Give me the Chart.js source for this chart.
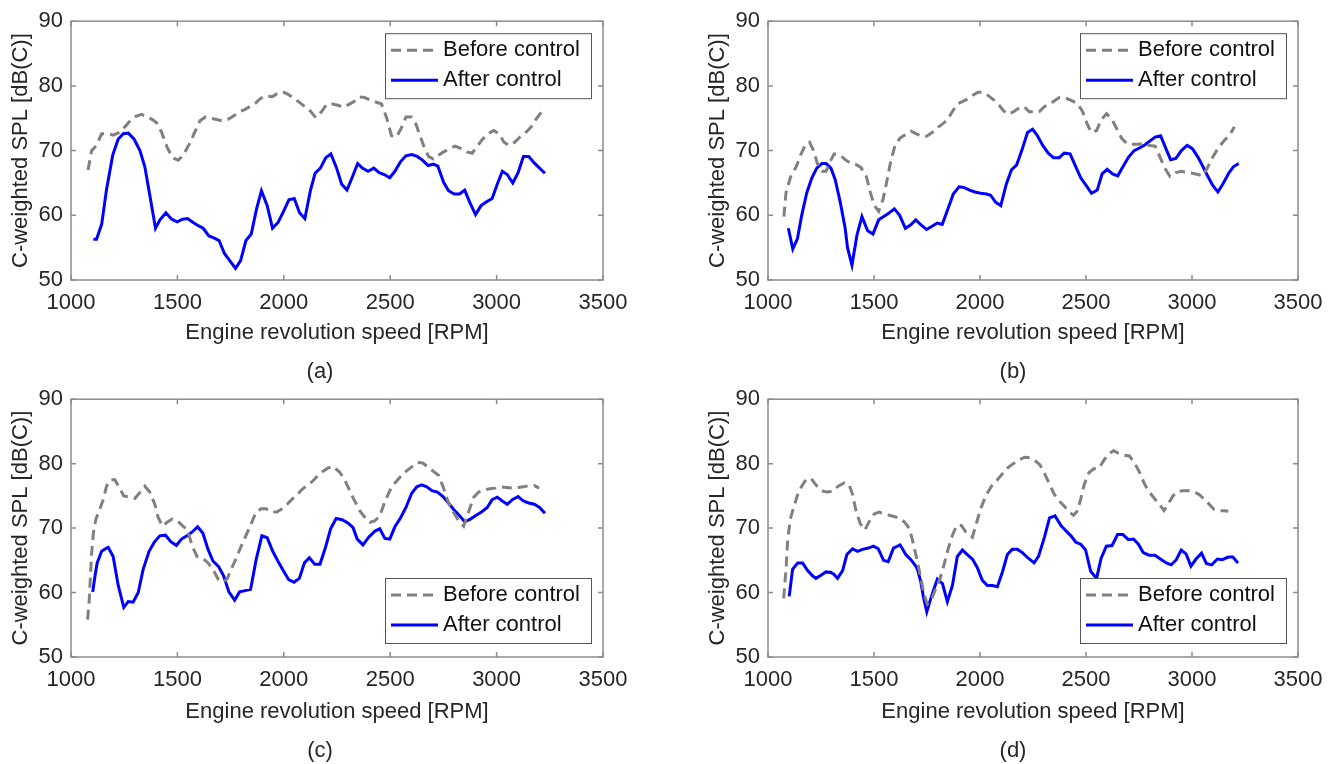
<!DOCTYPE html>
<html>
<head>
<meta charset="utf-8">
<script src="https://cdn.jsdelivr.net/npm/chart.js"></script>
<style>
  body { margin: 0; background: #fff; width: 1341px; height: 764px; position: relative; overflow: hidden;
         font-family: "Liberation Sans", Arial, sans-serif; }
  canvas { position: absolute; }
  .cap { position: absolute; font-size: 22px; color: #262626; transform: translate(-50%, -50%); }
</style>
</head>
<body>
<canvas id="ca" style="left:0;top:0" width="670" height="378"></canvas>
<canvas id="cb" style="left:697px;top:0" width="644" height="378"></canvas>
<canvas id="cc" style="left:0;top:378px" width="670" height="386"></canvas>
<canvas id="cd" style="left:697px;top:378px" width="644" height="386"></canvas>
<div class="cap" style="left:320px;top:371px">(a)</div>
<div class="cap" style="left:1013px;top:371px">(b)</div>
<div class="cap" style="left:320px;top:750px">(c)</div>
<div class="cap" style="left:1013px;top:750px">(d)</div>
<script>
// axis setup
const xTicks = [1000, 1500, 2000, 2500, 3000, 3500];
const yTicks = [50, 60, 70, 80, 90];
const xLabel = 'Engine revolution speed [RPM]';
const yLabel = 'C-weighted SPL [dB(C)]';
const seriesNames = ['Before control', 'After control'];

// (a) [rpm, dB]
const beforeA = [[1080,67],[1097,70],[1120,70.8],[1144,72.6],[1172,72.6],[1199,72.4],[1227,72.8],[1254,73.7],[1280,74.7],[1305,75.3],[1332,75.6],[1358,75.2],[1383,74.8],[1402,74.3],[1426,72.8],[1452,70.5],[1477,68.9],[1504,68.5],[1527,69.3],[1556,71],[1581,72.8],[1606,74.6],[1632,75.2],[1657,75],[1684,74.8],[1711,74.6],[1736,74.8],[1762,75.3],[1789,76],[1814,76.3],[1840,76.8],[1866,77.3],[1892,78.1],[1919,78.5],[1944,78.3],[1969,78.8],[1994,79.1],[2020,78.7],[2047,78.1],[2072,77.5],[2099,76.8],[2125,76.1],[2150,75.1],[2177,76],[2200,77.1],[2229,77.2],[2254,77],[2279,76.7],[2304,77.1],[2330,77.6],[2353,78.3],[2380,78.2],[2407,77.8],[2434,77.5],[2459,77.2],[2483,75.1],[2506,72.3],[2530,72.1],[2554,73.6],[2574,75.2],[2599,75.2],[2621,74.1],[2640,72.3],[2659,70.6],[2680,69.1],[2703,68.7],[2727,69.3],[2751,69.8],[2779,70.3],[2806,70.7],[2833,70.3],[2861,69.8],[2885,69.6],[2908,70.6],[2932,71.7],[2959,72.6],[2987,73.1],[3011,72.6],[3035,71.3],[3058,70.8],[3085,71.3],[3110,72.1],[3137,72.8],[3161,73.6],[3184,74.8],[3200,75.5],[3222,76.3]];
const afterA = [[1105,56.3],[1120,56.3],[1144,58.6],[1167,64],[1196,69.3],[1222,71.8],[1246,72.6],[1269,72.7],[1296,71.8],[1324,70],[1347,67.5],[1371,63],[1397,58],[1418,59.3],[1446,60.4],[1473,59.4],[1499,59],[1524,59.4],[1548,59.5],[1574,58.9],[1598,58.4],[1621,58],[1648,56.8],[1671,56.5],[1696,56.1],[1721,54.1],[1746,53],[1773,51.8],[1797,53],[1822,56.1],[1847,57.1],[1872,61],[1895,63.8],[1922,61.5],[1947,58],[1973,58.9],[1997,60.5],[2024,62.4],[2049,62.6],[2074,60.4],[2099,59.5],[2125,63.8],[2147,66.5],[2172,67.3],[2197,68.9],[2221,69.5],[2247,67.4],[2272,64.8],[2297,63.9],[2323,66],[2347,68],[2369,67.3],[2396,66.8],[2423,67.3],[2448,66.6],[2472,66.3],[2498,65.8],[2522,66.8],[2549,68.3],[2574,69.2],[2601,69.4],[2627,69.1],[2653,68.5],[2678,67.7],[2703,67.9],[2724,67.6],[2751,65.1],[2774,63.8],[2801,63.3],[2826,63.3],[2850,63.9],[2874,62],[2901,60.1],[2927,61.5],[2953,62.1],[2979,62.6],[3003,64.8],[3027,66.8],[3050,66.3],[3076,65],[3101,66.6],[3126,69.1],[3151,69.1],[3177,68.1],[3202,67.3],[3227,66.5]];

// (b)
const beforeB = [[1075,59.8],[1085,63.5],[1107,66],[1133,67.5],[1155,69.4],[1175,70.8],[1196,71.3],[1215,70],[1233,68],[1254,66.8],[1274,66.8],[1293,68.3],[1312,69.5],[1341,69.3],[1364,68.6],[1388,68.1],[1412,67.9],[1438,67.4],[1464,66],[1483,63.5],[1502,61.5],[1522,60.6],[1543,62.5],[1562,65.5],[1580,68.5],[1601,71],[1625,72],[1651,72.5],[1675,73],[1700,72.6],[1722,72.2],[1748,72.2],[1774,72.8],[1798,73.5],[1822,74.1],[1845,74.7],[1869,76],[1893,77.2],[1919,77.6],[1943,78],[1968,78.6],[1990,79],[2015,79],[2039,78.5],[2066,77.8],[2090,77],[2113,76.1],[2132,75.6],[2158,76],[2180,76.5],[2208,76.8],[2232,76],[2255,76],[2279,76],[2303,76.8],[2343,77.5],[2374,78.2],[2397,78.2],[2428,77.8],[2459,77.3],[2483,76.1],[2506,74.1],[2525,72.8],[2550,73.1],[2572,74.8],[2597,75.7],[2623,74.8],[2643,73.5],[2670,71.8],[2696,71],[2721,71],[2748,71],[2771,71.1],[2799,70.8],[2826,70.7],[2849,69],[2872,67.3],[2896,66],[2924,66.6],[2950,66.8],[2974,66.6],[3002,66.5],[3028,66.3],[3052,66.1],[3075,67.5],[3098,69],[3126,70.5],[3153,71.6],[3176,72.3],[3200,73.7]];
const afterB = [[1096,58],[1117,54.8],[1139,56.4],[1159,60],[1183,63.5],[1207,65.8],[1230,67.3],[1254,68],[1274,68],[1297,67.3],[1317,65.5],[1341,62],[1364,58],[1375,55],[1396,52.3],[1420,57],[1443,59.8],[1470,57.6],[1495,57.1],[1522,59.3],[1546,59.8],[1569,60.3],[1596,61],[1621,60],[1648,58],[1672,58.5],[1697,59.3],[1722,58.5],[1748,57.8],[1774,58.3],[1798,58.8],[1822,58.6],[1849,61],[1874,63.3],[1901,64.4],[1924,64.3],[1951,63.9],[1976,63.6],[2003,63.4],[2030,63.3],[2050,63.1],[2074,62],[2098,61.5],[2124,64.8],[2148,67],[2173,67.8],[2197,70],[2224,72.8],[2248,73.3],[2269,72.4],[2296,70.8],[2322,69.6],[2347,68.9],[2374,68.9],[2397,69.6],[2425,69.5],[2452,67.5],[2475,65.8],[2503,64.5],[2526,63.4],[2553,63.9],[2576,66.4],[2600,67.1],[2625,66.4],[2650,66.1],[2674,67.5],[2701,69],[2727,70],[2752,70.4],[2779,70.9],[2802,71.5],[2826,72.1],[2852,72.3],[2877,70.3],[2899,68.6],[2924,68.8],[2950,70],[2977,70.8],[3002,70.3],[3028,69],[3052,67.5],[3075,66],[3098,64.6],[3122,63.6],[3145,64.8],[3173,66.5],[3195,67.5],[3220,68]];

// (c)
const beforeC = [[1078,55.8],[1086,59],[1097,66.1],[1105,69.2],[1117,71.4],[1136,73],[1152,74.5],[1167,76.5],[1186,77.5],[1206,77.5],[1227,76.3],[1248,75],[1277,74.8],[1300,74.6],[1323,75.5],[1347,76.5],[1370,75.6],[1394,73.7],[1409,71.7],[1430,70.3],[1452,70.9],[1475,71.4],[1498,71.2],[1523,70.4],[1547,69.7],[1570,67.2],[1592,65.6],[1617,65.4],[1644,64.6],[1667,63.6],[1691,62.1],[1714,61.6],[1733,62.1],[1753,63.6],[1777,65.4],[1800,67.2],[1823,68.9],[1847,70.7],[1870,72.5],[1894,73],[1917,73],[1941,72.5],[1967,72.5],[1992,73],[2016,73.7],[2039,74.5],[2063,75.2],[2086,76],[2109,76.6],[2133,77.2],[2156,78],[2180,78.7],[2206,79.3],[2230,79.6],[2262,78.7],[2286,77.5],[2310,75.8],[2333,74.2],[2357,72.7],[2380,71.7],[2404,70.9],[2427,71.1],[2451,71.9],[2475,74.1],[2498,75.8],[2522,77],[2549,78],[2574,78.8],[2601,79.5],[2628,80.2],[2653,80.1],[2677,79.5],[2703,78.8],[2727,78.2],[2751,76.2],[2774,73.9],[2798,72.4],[2822,71.1],[2845,70.3],[2868,72.5],[2893,74.8],[2916,75.6],[2940,75.9],[2968,76.1],[2995,76.2],[3019,76.4],[3047,76.3],[3074,76.2],[3101,76.3],[3126,76.4],[3153,76.6],[3177,76.6],[3200,76.2]];
const afterC = [[1102,60.1],[1113,62.6],[1123,64.6],[1144,66.4],[1167,66.9],[1175,67],[1198,65.6],[1222,61.1],[1248,57.7],[1269,58.6],[1292,58.5],[1316,60],[1339,63.6],[1367,66.4],[1391,67.8],[1417,68.8],[1444,68.9],[1469,67.9],[1495,67.3],[1519,68.3],[1545,68.8],[1570,69.4],[1595,70.2],[1620,69.2],[1644,66.7],[1667,64.9],[1694,64],[1717,62.6],[1742,60.1],[1769,58.8],[1792,60.1],[1819,60.3],[1844,60.5],[1870,65.1],[1897,68.8],[1922,68.5],[1948,66.4],[1972,64.9],[1998,63.4],[2023,62],[2048,61.6],[2073,62.2],[2097,64.6],[2120,65.4],[2145,64.4],[2170,64.4],[2195,66.9],[2220,69.9],[2246,71.5],[2274,71.3],[2301,70.8],[2325,70.1],[2345,68.3],[2372,67.4],[2399,68.6],[2427,69.5],[2451,69.9],[2475,68.4],[2498,68.3],[2522,70.2],[2549,71.6],[2574,73.2],[2601,75.4],[2625,76.4],[2648,76.7],[2672,76.4],[2696,75.8],[2722,75.6],[2748,74.9],[2774,73.9],[2798,72.9],[2826,71.9],[2850,71],[2877,71.4],[2904,72],[2929,72.5],[2956,73.2],[2979,74.4],[3003,74.8],[3027,74.2],[3050,73.7],[3074,74.4],[3101,74.9],[3126,74.2],[3151,73.9],[3177,73.7],[3202,73.2],[3227,72.3]];

// (d)
const beforeD = [[1074,59.1],[1085,63.6],[1093,68.2],[1105,71.4],[1121,73.2],[1140,75.2],[1159,76.5],[1179,77.5],[1203,77.7],[1226,76.7],[1250,75.8],[1278,75.6],[1305,75.7],[1331,76.5],[1360,77],[1383,76.7],[1399,75.2],[1415,72.7],[1435,70.7],[1457,69.7],[1477,71],[1501,72.2],[1524,72.5],[1548,72.2],[1571,72],[1595,71.8],[1619,71.5],[1642,71],[1666,70],[1681,68.2],[1702,65.2],[1721,62.2],[1736,59.7],[1752,58.2],[1771,58.9],[1791,60.6],[1812,62.2],[1831,64.4],[1849,66.7],[1870,68.9],[1890,70.4],[1912,70.4],[1933,69.4],[1964,68.6],[1980,70.4],[2003,73],[2027,75],[2054,76.5],[2082,77.5],[2105,78.4],[2129,79.3],[2157,80],[2184,80.6],[2211,81],[2236,80.9],[2262,80.4],[2283,79.8],[2304,78.5],[2328,76.8],[2351,75.2],[2374,74.2],[2398,73.4],[2421,72.5],[2441,72],[2460,72.7],[2475,74.5],[2491,76.7],[2514,78.6],[2537,79.2],[2561,79.3],[2584,80.5],[2607,81.5],[2630,82],[2654,81.6],[2680,81.3],[2705,81.2],[2731,80],[2755,78.5],[2778,76.7],[2801,75.5],[2825,74.5],[2848,73.6],[2868,72.7],[2887,73.7],[2910,75],[2933,75.7],[2957,75.8],[2985,75.8],[3011,75.6],[3034,75.2],[3058,74.5],[3081,73.7],[3104,72.9],[3127,72.7],[3151,72.7],[3171,72.6]];
const afterD = [[1100,59.4],[1116,63.6],[1140,64.6],[1163,64.6],[1187,63.4],[1210,62.6],[1226,62.2],[1250,62.7],[1273,63.2],[1297,63.1],[1312,62.8],[1328,62.2],[1352,63.4],[1372,65.9],[1399,66.8],[1422,66.4],[1446,66.7],[1473,66.9],[1498,67.2],[1520,66.8],[1545,65],[1567,64.8],[1592,66.9],[1623,67.4],[1650,65.9],[1674,65.1],[1697,64.1],[1705,63.6],[1721,61.6],[1733,59.3],[1749,57],[1768,59.1],[1783,60.6],[1799,62.1],[1823,61.4],[1846,58.6],[1870,61.1],[1893,65.6],[1917,66.6],[1940,65.9],[1964,65.2],[1987,63.9],[2011,61.9],[2035,61.1],[2058,61.1],[2082,60.9],[2105,63.1],[2129,65.9],[2152,66.7],[2176,66.7],[2200,66.2],[2225,65.4],[2255,64.6],[2276,65.6],[2304,68.6],[2328,71.6],[2354,71.9],[2382,70.4],[2405,69.6],[2429,68.8],[2452,67.8],[2475,67.5],[2498,66.6],[2522,63.3],[2550,62.2],[2571,65.3],[2596,67.2],[2623,67.3],[2649,69],[2674,69],[2700,68.2],[2724,68.3],[2747,67.5],[2770,66.2],[2797,65.8],[2825,65.8],[2851,65.2],[2879,64.6],[2902,64.3],[2926,65.1],[2949,66.6],[2972,66],[2995,64.1],[3019,65.2],[3045,66.1],[3068,64.5],[3093,64.3],[3120,65.2],[3143,65.1],[3171,65.5],[3193,65.5],[3217,64.6]];

const FONT = '"Liberation Sans", Arial, sans-serif';
const TXT = '#262626';

// box around the plot with inward ticks on all four sides, like matlab "box on"
const frame = {
  id: 'frame',
  afterDraw(chart) {
    const { ctx, chartArea: a, scales: { x, y } } = chart;
    ctx.save();
    ctx.strokeStyle = '#8c8c8c';
    ctx.lineWidth = 1.5;
    ctx.strokeRect(a.left, a.top, a.right - a.left, a.bottom - a.top);
    ctx.beginPath();
    x.ticks.forEach(t => {
      const p = x.getPixelForValue(t.value);
      ctx.moveTo(p, a.bottom); ctx.lineTo(p, a.bottom - 5);
      ctx.moveTo(p, a.top); ctx.lineTo(p, a.top + 5);
    });
    y.ticks.forEach(t => {
      const p = y.getPixelForValue(t.value);
      ctx.moveTo(a.left, p); ctx.lineTo(a.left + 5, p);
      ctx.moveTo(a.right, p); ctx.lineTo(a.right - 5, p);
    });
    ctx.stroke();
    ctx.restore();
  }
};

// legend in a white box inside the axes
const boxLegend = {
  id: 'boxLegend',
  afterDatasetsDraw(chart, args, opts) {
    const { ctx, chartArea: a } = chart;
    const w = 206, h = 65;
    const bx = a.right - 12 - w;
    const by = opts.where === 'top' ? a.top + 12 : a.bottom - 14 - h;
    ctx.save();
    ctx.fillStyle = '#fff';
    ctx.fillRect(bx, by, w, h);
    ctx.strokeStyle = '#555';
    ctx.lineWidth = 1;
    ctx.strokeRect(bx + 0.5, by + 0.5, w, h);
    chart.data.datasets.forEach((ds, i) => {
      const cy = by + 17 + i * 30;
      ctx.beginPath();
      ctx.setLineDash(ds.borderDash || []);
      ctx.strokeStyle = ds.borderColor;
      ctx.lineWidth = ds.borderWidth;
      ctx.moveTo(bx + 6, cy);
      ctx.lineTo(bx + 53, cy);
      ctx.stroke();
      ctx.setLineDash([]);
      ctx.fillStyle = '#111';
      ctx.font = '22px ' + FONT;
      ctx.textBaseline = 'middle';
      ctx.fillText(ds.label, bx + 58, cy);
    });
    ctx.restore();
  }
};

function makePanel(id, before, after, opt) {
  const ctx = document.getElementById(id).getContext('2d');
  return new Chart(ctx, {
    type: 'line',
    data: {
      datasets: [{
        label: seriesNames[0],
        data: before,
        borderColor: '#808080',
        borderWidth: 3,
        borderDash: [10, 6],
        pointRadius: 0,
        tension: 0
      }, {
        label: seriesNames[1],
        data: after,
        borderColor: '#0000ff',
        borderWidth: 3,
        pointRadius: 0,
        tension: 0
      }]
    },
    options: {
      responsive: false,
      animation: false,
      layout: { padding: { top: 14, right: opt.right, left: 0, bottom: 0 } },
      plugins: {
        legend: { display: false },
        tooltip: { enabled: false },
        boxLegend: { where: opt.legend }
      },
      scales: {
        x: {
          type: 'linear',
          min: xTicks[0],
          max: xTicks[xTicks.length - 1],
          afterBuildTicks: s => { s.ticks = xTicks.map(v => ({ value: v })); },
          afterFit: s => { s.height = opt.xh; },
          grid: { display: false, drawTicks: false },
          border: { display: false },
          ticks: { padding: 10, color: TXT, font: { family: FONT, size: 22 }, maxRotation: 0,
                   callback: v => String(v) },
          title: { display: true, text: xLabel, color: TXT, font: { family: FONT, size: 22 },
                   padding: { top: 0, bottom: opt.tpad } }
        },
        y: {
          min: yTicks[0],
          max: yTicks[yTicks.length - 1],
          afterBuildTicks: s => { s.ticks = yTicks.map(v => ({ value: v })); },
          afterFit: s => { s.width = 71; },
          grid: { display: false, drawTicks: false },
          border: { display: false },
          ticks: { padding: 8, color: TXT, font: { family: FONT, size: 22 }, callback: v => String(v) },
          title: { display: true, text: yLabel, color: TXT, font: { family: FONT, size: 22 },
                   padding: { top: 8, bottom: 0 } }
        }
      }
    },
    plugins: [frame, boxLegend]
  });
}

makePanel('ca', beforeA, afterA, { right: 67, xh: 98, tpad: 32, legend: 'top' });
makePanel('cb', beforeB, afterB, { right: 43, xh: 98, tpad: 32, legend: 'top' });
makePanel('cc', beforeC, afterC, { right: 67, xh: 107, tpad: 39, legend: 'bottom' });
makePanel('cd', beforeD, afterD, { right: 43, xh: 107, tpad: 39, legend: 'bottom' });
</script>
</body>
</html>
